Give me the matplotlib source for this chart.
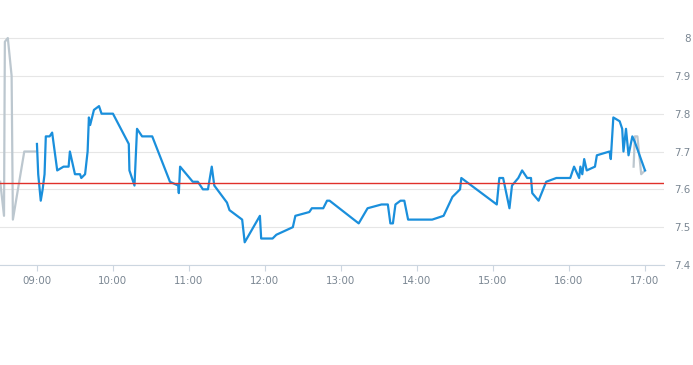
import pandas as pd
import matplotlib
matplotlib.use("Agg")
import matplotlib.pyplot as plt
import matplotlib.dates as mdates

day = "2024-01-02 "

# grey series (pre-open and closing auction)
grey_times = ["08:31", "08:34", "08:34:40", "08:37", "08:40", "08:41", "08:50", "08:59"]
grey_values = [7.62, 7.53, 7.99, 8.00, 7.90, 7.52, 7.70, 7.70]
grey_end_times = ["16:51", "16:52", "16:54", "16:57", "17:00"]
grey_end_values = [7.66, 7.74, 7.74, 7.64, 7.65]

# blue series (trading session)
blue_times = [
    "09:00", "09:01", "09:03", "09:04:30", "09:06", "09:07", "09:10", "09:12",
    "09:16", "09:21", "09:25", "09:26", "09:30", "09:34", "09:35", "09:38",
    "09:40", "09:41", "09:42", "09:45", "09:49", "09:51", "10:00", "10:12:30",
    "10:13", "10:17", "10:19", "10:23", "10:31", "10:45", "10:51:30", "10:52",
    "10:53", "11:03", "11:07", "11:11", "11:15", "11:18", "11:20", "11:30",
    "11:32", "11:42", "11:44", "11:56", "11:57", "12:06", "12:09", "12:22",
    "12:24", "12:35", "12:37", "12:46", "12:49", "12:51", "13:14", "13:21",
    "13:32", "13:37", "13:39", "13:41", "13:43", "13:47", "13:50", "13:53",
    "14:12", "14:21", "14:28", "14:34", "14:35", "15:03", "15:05", "15:08",
    "15:13", "15:15", "15:20", "15:23", "15:27", "15:30", "15:31", "15:36",
    "15:42", "15:50", "16:01", "16:04", "16:08", "16:09", "16:10:30", "16:12",
    "16:14", "16:20:30", "16:22", "16:32", "16:33", "16:35", "16:40", "16:42",
    "16:43", "16:45", "16:47", "16:50", "16:52", "17:00",
]
blue_values = [
    7.72, 7.64, 7.57, 7.60, 7.64, 7.74, 7.74, 7.75,
    7.65, 7.66, 7.66, 7.70, 7.64, 7.64, 7.63, 7.64,
    7.70, 7.79, 7.77, 7.81, 7.82, 7.80, 7.80, 7.72,
    7.65, 7.61, 7.76, 7.74, 7.74, 7.62, 7.61, 7.59,
    7.66, 7.62, 7.62, 7.60, 7.60, 7.66, 7.61, 7.565,
    7.545, 7.52, 7.46, 7.53, 7.47, 7.47, 7.48, 7.50,
    7.53, 7.54, 7.55, 7.55, 7.57, 7.57, 7.51, 7.55,
    7.56, 7.56, 7.51, 7.51, 7.56, 7.57, 7.57, 7.52,
    7.52, 7.53, 7.58, 7.60, 7.63, 7.56, 7.63, 7.63,
    7.55, 7.61, 7.63, 7.65, 7.63, 7.63, 7.59, 7.57,
    7.62, 7.63, 7.63, 7.66, 7.63, 7.66, 7.64, 7.68,
    7.65, 7.66, 7.69, 7.70, 7.68, 7.79, 7.78, 7.76,
    7.70, 7.76, 7.69, 7.74, 7.725, 7.65,
]

prev_close = 7.617
y_ticks = [7.4, 7.5, 7.6, 7.7, 7.8, 7.9, 8.0]
x_ticks = ["09:00", "10:00", "11:00", "12:00", "13:00", "14:00", "15:00", "16:00", "17:00"]


def to_dt(times):
    return pd.to_datetime([day + t for t in times], format="mixed")


text_col = "#7a8692"

fig = plt.figure(figsize=(6.93, 3.65), dpi=100)
ax = fig.add_axes([0, 1 - 265 / 365, 664 / 693, 265 / 365])

ax.plot(to_dt(grey_times), grey_values, color="#bcc7cf", lw=1.6, zorder=3)
ax.plot(to_dt(blue_times), blue_values, color="#1a8fdc", lw=1.6, zorder=4)
ax.plot(to_dt(grey_end_times), grey_end_values, color="#bcc7cf", lw=1.6, zorder=3)
ax.axhline(prev_close, color="#e0302a", lw=1.0, zorder=5)

ax.set_xlim(pd.Timestamp(day + "08:30:50"), pd.Timestamp(day + "17:15:00"))
ax.set_ylim(7.4, 8.1005)

ax.set_xticks(to_dt(x_ticks))
ax.xaxis.set_major_formatter(mdates.DateFormatter("%H:%M"))
ax.set_yticks(y_ticks)
ax.set_yticklabels(["7.4", "7.5", "7.6", "7.7", "7.8", "7.9", "8"])

ax.yaxis.tick_right()
ax.tick_params(axis="y", length=0, pad=19, labelsize=7.4, labelcolor=text_col)
for lab in ax.get_yticklabels():
    lab.set_horizontalalignment("right")
ax.tick_params(axis="x", length=4, width=0.8, color="#ccd6e0", pad=4,
               labelsize=7.4, labelcolor=text_col)

ax.grid(axis="y", color="#e6e6e6", lw=0.8)
for s in ["top", "left", "right"]:
    ax.spines[s].set_visible(False)
ax.spines["bottom"].set_color("#ccd6e0")
ax.spines["bottom"].set_linewidth(0.8)

fig.savefig("out.png", dpi=100)
